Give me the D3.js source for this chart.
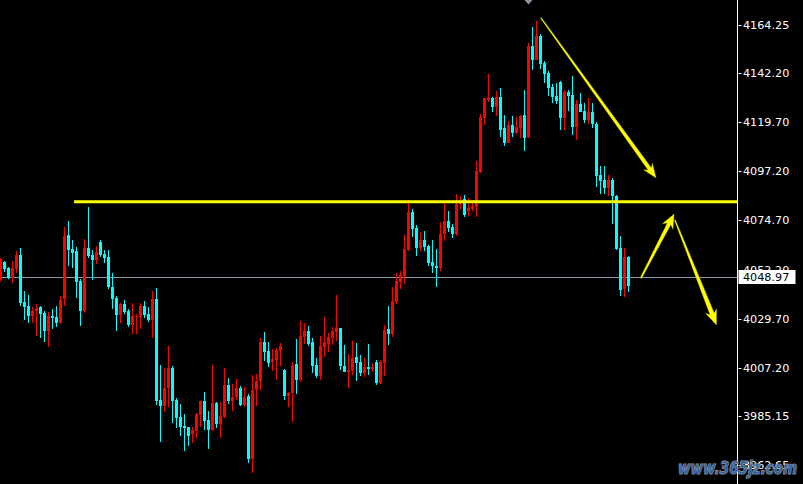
<!DOCTYPE html>
<html><head><meta charset="utf-8">
<script src="https://cdn.jsdelivr.net/npm/d3@7/dist/d3.min.js"></script>
<style>html,body{margin:0;padding:0;background:#000;overflow:hidden}svg{display:block}</style>
</head><body>
<svg id="chart" width="803" height="484"></svg>
<script>
// ---- data ----
const opens = [4047.4,4055.7,4052.9,4048.3,4052.5,4058.9,4037.3,4035.5,4030.9,4033.2,4035.0,4032.3,4024.1,4030.9,4030.5,4027.7,4038.7,4068.0,4061.6,4060.7,4047.0,4033.2,4062.1,4058.9,4056.6,4064.8,4059.3,4058.0,4044.2,4039.2,4031.4,4036.4,4033.2,4026.8,4030.5,4030.5,4035.5,4031.8,4029.1,4038.7,3992.4,3989.7,3997.9,4007.1,3992.4,3984.6,3980.5,3980.1,3976.9,3978.2,3985.6,3992.0,3983.3,3978.7,3991.1,3981.4,3984.6,3999.3,3992.0,3993.8,3997.9,3990.1,3994.3,3965.4,3997.0,4001.1,4019.0,4014.9,4009.8,4010.8,4014.9,4006.2,3994.3,3995.6,4008.9,4001.6,4021.3,4024.1,4019.0,4008.5,4003.4,4016.7,4018.1,4020.8,4023.6,4025.4,4008.0,4005.3,4005.7,4012.1,4009.8,4004.8,4007.6,4006.6,4009.8,4000.2,4009.4,4025.0,4022.7,4037.3,4046.5,4049.2,4061.2,4078.6,4071.2,4062.1,4065.7,4063.0,4055.7,4053.8,4052.9,4068.5,4074.5,4071.7,4068.5,4082.2,4084.5,4079.0,4080.0,4080.9,4096.9,4121.6,4129.9,4130.8,4126.7,4131.3,4117.1,4110.2,4118.4,4114.8,4117.1,4123.0,4112.9,4154.6,4148.2,4159.2,4146.8,4142.3,4135.9,4131.7,4138.1,4121.6,4133.6,4132.2,4117.5,4128.1,4124.9,4120.7,4124.4,4118.9,4095.5,4093.2,4089.6,4093.2,4085.9,4062.1,4043.3,4058.0];
const highs = [4057.5,4056.1,4053.4,4056.1,4060.7,4062.1,4042.4,4040.5,4035.0,4036.4,4035.5,4033.2,4032.8,4034.1,4035.5,4040.1,4071.7,4074.5,4065.7,4062.5,4047.9,4066.2,4080.9,4061.2,4063.0,4065.7,4061.2,4061.2,4050.6,4040.1,4036.9,4038.3,4034.1,4036.9,4031.8,4036.9,4037.8,4035.0,4042.4,4043.8,4008.5,4007.1,4017.2,4008.0,3993.4,3990.6,3986.0,3980.1,3980.1,3986.5,3992.0,3996.1,3987.4,4008.5,3991.5,3991.5,4007.1,4002.5,3999.8,4002.1,3998.9,3998.4,3995.2,4003.9,4004.4,4020.8,4023.6,4019.0,4015.8,4016.3,4018.6,4006.6,3996.1,4009.8,4020.4,4028.6,4027.7,4026.3,4020.8,4011.7,4021.8,4030.5,4023.1,4025.9,4040.5,4025.4,4017.6,4013.5,4019.5,4018.6,4013.1,4011.7,4018.1,4009.4,4010.8,4010.8,4026.8,4035.5,4044.2,4050.6,4051.5,4068.0,4084.1,4080.0,4072.6,4069.4,4069.9,4063.5,4065.7,4061.6,4074.0,4082.7,4079.0,4073.1,4086.8,4085.9,4086.4,4085.0,4084.1,4101.9,4123.5,4130.8,4141.8,4131.3,4134.0,4135.4,4123.0,4120.3,4122.6,4122.1,4123.0,4134.5,4156.0,4163.3,4166.1,4160.1,4147.8,4143.2,4137.2,4137.7,4138.6,4134.5,4134.5,4140.9,4129.9,4133.1,4128.5,4130.8,4128.5,4119.8,4099.7,4099.7,4095.5,4094.2,4086.4,4067.6,4062.1,4058.4];
const lows = [4046.9,4051.1,4047.9,4046.0,4050.6,4035.5,4029.1,4027.7,4027.7,4021.8,4020.8,4019.0,4016.7,4025.0,4025.9,4027.3,4035.5,4053.8,4052.9,4039.2,4026.3,4032.3,4057.5,4047.4,4054.7,4058.0,4055.2,4043.3,4034.1,4024.1,4027.7,4031.8,4025.9,4022.7,4022.7,4025.0,4030.0,4028.2,4020.8,3990.1,3973.2,3986.9,3989.2,3981.9,3979.6,3975.9,3969.1,3971.4,3972.7,3975.0,3980.1,3978.7,3970.0,3978.2,3979.6,3975.0,3984.2,3990.6,3987.4,3992.4,3989.7,3989.2,3963.6,3959.0,3989.7,3997.0,4010.3,4007.6,4005.7,4001.6,4008.0,3992.4,3989.2,3982.4,3995.2,4000.7,4018.1,4017.2,4004.8,4002.5,4001.6,4012.1,4014.4,4017.6,4019.5,4006.2,4005.3,3997.9,4003.9,4001.1,4003.4,4003.0,4003.9,4005.3,3999.3,3999.8,4003.4,4017.6,4021.3,4036.4,4043.3,4045.6,4060.7,4067.1,4058.4,4060.7,4060.7,4053.8,4050.6,4044.2,4051.5,4065.3,4069.4,4066.7,4067.6,4080.0,4076.3,4076.7,4079.0,4076.3,4096.4,4118.4,4129.0,4124.4,4122.6,4112.9,4108.8,4110.2,4112.9,4114.3,4112.5,4106.5,4112.5,4143.6,4148.2,4144.1,4137.7,4131.7,4128.5,4128.1,4116.1,4116.1,4124.9,4113.9,4111.6,4124.4,4119.4,4118.9,4117.1,4090.0,4086.8,4086.8,4085.9,4073.1,4061.2,4040.1,4039.6,4041.9];
const closes = [4057.0,4052.5,4048.3,4052.9,4058.9,4036.9,4035.0,4030.9,4033.2,4034.6,4031.8,4024.1,4030.9,4030.0,4027.7,4038.3,4067.6,4061.2,4059.8,4046.5,4033.2,4062.1,4058.4,4056.6,4060.2,4058.9,4057.5,4044.2,4038.7,4031.4,4036.4,4032.8,4026.8,4030.9,4030.9,4035.5,4031.4,4029.1,4038.7,3992.0,3989.7,3997.9,4007.1,3992.0,3984.2,3980.1,3979.6,3975.9,3978.7,3986.0,3992.0,3982.8,3978.7,3991.1,3981.4,3985.1,3999.3,3992.0,3993.8,3997.9,3990.1,3993.8,3965.4,3997.0,4001.1,4019.0,4014.4,4009.4,4011.2,4015.3,4017.2,3994.3,3995.6,4008.5,4001.6,4021.8,4024.1,4018.1,4008.0,4003.4,4017.2,4019.0,4021.3,4024.1,4025.4,4008.0,4005.3,4006.2,4011.7,4009.4,4004.8,4007.6,4006.6,4007.6,4000.2,4009.8,4024.5,4022.7,4037.8,4047.0,4049.7,4061.6,4078.6,4070.8,4062.1,4065.7,4062.5,4055.2,4053.8,4052.9,4068.5,4074.5,4071.2,4068.5,4082.2,4084.1,4077.2,4080.4,4081.3,4097.4,4122.1,4130.8,4130.8,4126.7,4131.3,4116.1,4110.2,4118.4,4114.8,4117.5,4122.6,4112.5,4154.6,4148.2,4159.2,4146.4,4141.8,4135.4,4131.3,4129.4,4121.6,4133.6,4131.7,4117.5,4128.1,4124.4,4120.7,4124.4,4118.9,4095.1,4092.8,4089.6,4093.2,4085.9,4061.6,4042.8,4058.0,4044.7];
const tickValues = [4164.25,4142.20,4119.70,4097.20,4074.70,4052.20,4029.70,4007.20,3985.15,3962.65];
const tickLabels = ["4164.25","4142.20","4119.70","4097.20","4074.70","4052.20","4029.70","4007.20","3985.15","3962.65"];
const levelPrice = 4083.3;      // horizontal yellow line
const levelStartBar = 18.4;
const lastPrice = 4048.97;
const markerBar = 132;          // gray marker above the high
// arrows: [fromBar, fromPrice, toBar, toPrice]
const arrowFrom = [[135.1,4167.5],[160.1,4048.3],[168.6,4074.9]];
const arrowTo   = [[163.9,4094.2],[168.4,4077.6],[179.0,4026.8]];
const watermark = "www.365jz.com";

// ---- layout ----
const W = 803, H = 484, axisX = 737.5;
const svg = d3.select("#chart");
svg.append("rect").attr("width",W).attr("height",H).attr("fill","#000");

const x = d3.scaleLinear().domain([0, 157]).range([0.5, 628.5]);
const y = d3.scaleLinear().domain([3962.65, 4164.25]).range([465, 25]);

const candles = opens.map((o,i)=>({i,o,h:highs[i],l:lows[i],c:closes[i]}));
const UP = "#ff0000", DOWN = "#00ffff";

const plot = svg.append("g");
// price line
plot.append("line").attr("x1",0).attr("x2",axisX).attr("y1",Math.round(y(lastPrice))+0.5).attr("y2",Math.round(y(lastPrice))+0.5)
  .attr("stroke","#8a9aab").attr("stroke-width",1);

const cg = plot.append("g").attr("shape-rendering","crispEdges");
cg.selectAll("line.wick").data(candles).join("line").attr("class","wick")
  .attr("x1",d=>x(d.i)).attr("x2",d=>x(d.i))
  .attr("y1",d=>Math.round(y(d.h))).attr("y2",d=>Math.round(y(d.l)))
  .attr("stroke",d=>d.c>=d.o?UP:DOWN).attr("stroke-width",1);
cg.selectAll("rect.body").data(candles).join("rect").attr("class","body")
  .attr("x",d=>x(d.i)-1.5).attr("width",3)
  .attr("y",d=>Math.round(y(Math.max(d.o,d.c))))
  .attr("height",d=>Math.max(1,Math.round(y(Math.min(d.o,d.c)))-Math.round(y(Math.max(d.o,d.c)))))
  .attr("fill",d=>d.c>=d.o?UP:DOWN);

// horizontal level line
plot.append("line").attr("x1",x(levelStartBar)).attr("x2",axisX)
  .attr("y1",y(levelPrice)).attr("y2",y(levelPrice))
  .attr("stroke","#ffff00").attr("stroke-width",3);

// gray marker at top
const mx = x(markerBar);
plot.append("path").attr("d",`M${mx-4},0 L${mx+4},0 L${mx},4.5 Z`).attr("fill","#8a96a6");

// tapered arrows
function arrowPath(p0,p1,w0,w1,headLen,headHalf){
  const dx=p1[0]-p0[0], dy=p1[1]-p0[1], L=Math.hypot(dx,dy);
  const ux=dx/L, uy=dy/L, nx=-uy, ny=ux;
  const bx=p1[0]-ux*headLen, by=p1[1]-uy*headLen;
  const pts=[
    [p0[0]+nx*w0/2,p0[1]+ny*w0/2],
    [bx+nx*w1/2,by+ny*w1/2],
    [bx-ux*3+nx*headHalf,by-uy*3+ny*headHalf],
    [p1[0],p1[1]],
    [bx-ux*3-nx*headHalf,by-uy*3-ny*headHalf],
    [bx-nx*w1/2,by-ny*w1/2],
    [p0[0]-nx*w0/2,p0[1]-ny*w0/2]
  ];
  return "M"+pts.map(p=>p[0].toFixed(1)+","+p[1].toFixed(1)).join("L")+"Z";
}
const arrowStyle = [[1,4,11,5.5],[1.5,4,11,6],[1,4.5,12,6]];
arrowFrom.forEach((f,k)=>{
  const t = arrowTo[k], s = arrowStyle[k];
  plot.append("path").attr("d",arrowPath([x(f[0]),y(f[1])],[x(t[0]),y(t[1])],s[0],s[1],s[2],s[3]))
    .attr("fill","#ffff00").attr("stroke","#b0b000").attr("stroke-width",0.4);
});

// right axis
svg.append("rect").attr("x",axisX).attr("y",0).attr("width",W-axisX).attr("height",H).attr("fill","#000");
svg.append("line").attr("x1",axisX).attr("x2",axisX).attr("y1",0).attr("y2",H).attr("stroke","#fff").attr("stroke-width",1);
const ag = svg.append("g");
ag.selectAll("line.tick").data(tickValues).join("line").attr("class","tick")
  .attr("x1",axisX+1).attr("x2",axisX+4).attr("y1",d=>Math.round(y(d))+0.5).attr("y2",d=>Math.round(y(d))+0.5)
  .attr("stroke","#fff");
ag.selectAll("text").data(tickValues).join("text")
  .attr("x",743).attr("y",d=>y(d)).attr("dy","0.36em")
  .attr("fill","#fff").attr("font-family","DejaVu Sans, Verdana, sans-serif").attr("font-size",11.2)
  .text((d,i)=>tickLabels[i]);

// last price label
const ly = y(lastPrice);
svg.append("rect").attr("x",axisX+1).attr("y",Math.round(ly)-7).attr("width",57).attr("height",14).attr("fill","#fff");
svg.append("text").attr("x",743).attr("y",ly).attr("dy","0.36em").attr("fill","#000")
  .attr("font-family","DejaVu Sans, Verdana, sans-serif").attr("font-size",11.2).text(d3.format(".2f")(lastPrice));

// watermark
svg.append("text").attr("x",678).attr("y",474).attr("textLength",119).attr("lengthAdjust","spacingAndGlyphs")
  .attr("font-family","DejaVu Sans, sans-serif").attr("font-weight","bold").attr("font-style","italic").attr("font-size",17)
  .attr("fill","#3f6fae").attr("stroke","#8f969e").attr("stroke-width",1.2).attr("paint-order","stroke")
  .attr("fill-opacity",0.9).text(watermark);
</script>
</body></html>
